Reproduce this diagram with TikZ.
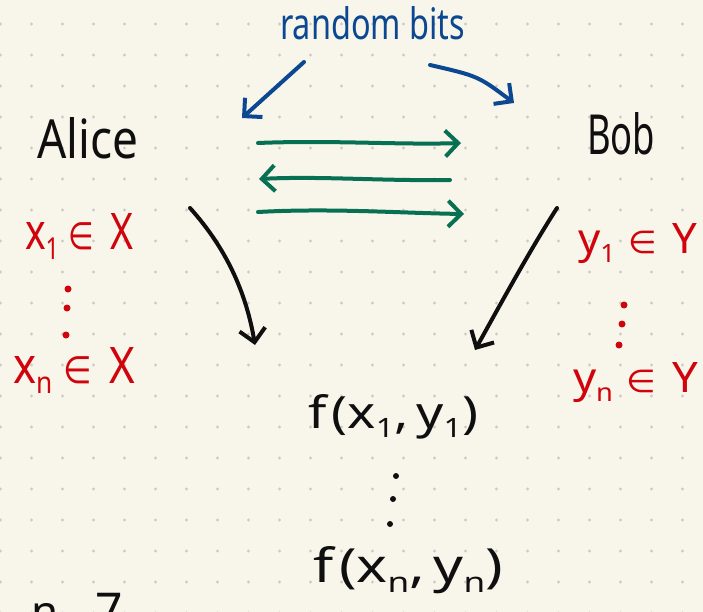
\documentclass[tikz,border=0pt]{standalone}
\usepackage{fontspec}
\setmainfont{Noto Sans}
\newfontfamily\dvfont{DejaVu Sans}
\usepackage{graphicx}
\usetikzlibrary{arrows.meta}
\definecolor{paper}{RGB}{248,246,235}
\definecolor{dotc}{RGB}{204,203,198}
\definecolor{ink}{RGB}{15,15,15}
\definecolor{redink}{RGB}{208,4,12}
\definecolor{blueink}{RGB}{12,72,146}
\definecolor{greenink}{RGB}{8,112,82}
\newcommand\sbs[1]{\raisebox{-0.4ex}{\scalebox{0.6}{#1}}}
\newcommand\elemsym{\scalebox{0.75}{\dvfont ∈}}
\begin{document}
\begin{tikzpicture}[x=1pt,y=-1pt,
  pen/.style={line width=4pt,line cap=round,line join=round,
    -{Straight Barb[length=13pt,width=26pt]}},
  lbl/.style={inner sep=0pt,outer sep=0pt,anchor=base west},
  vdot/.style={circle,fill,inner sep=0pt,minimum size=7pt},
  redtxt/.style={lbl,text=redink,font=\fontsize{40}{44}\selectfont},
  blktxt/.style={lbl,text=ink,font=\fontsize{40}{44}\selectfont}]
% paper
\useasboundingbox (0,0) rectangle (703,612);
\fill[paper] (0,0) rectangle (703,612);
\foreach \i in {0,...,22}
  \foreach \j in {0,...,19}
    \fill[dotc] (31*\i+0.5,24+31*\j) circle[radius=1.7pt];
% labels
\node[lbl,text=blueink,font=\fontsize{32}{36}\selectfont] (rb) at (280,40)
  {\resizebox{185pt}{33pt}{random bits}};
\node[blktxt] (alice) at (37,159) {\resizebox{101pt}{41pt}{Alice}};
\node[blktxt] (bob) at (587,155) {\resizebox{68pt}{42pt}{Bob}};
% red lists
\node[redtxt] (x1) at (25,249)
  {\resizebox{108pt}{36pt}{x\sbs{1}\hspace{0.25em}\elemsym\hspace{0.4em}X}};
\node[redtxt] (xn) at (13,383)
  {\resizebox{122pt}{36pt}{x\sbs{n}\hspace{0.25em}\elemsym\hspace{0.4em}X}};
\node[redtxt] (y1) at (578,253)
  {\resizebox{119pt}{30pt}{y\sbs{1}\hspace{0.3em}\elemsym\hspace{0.35em}Y}};
\node[redtxt] (yn) at (573,392)
  {\resizebox{125pt}{30pt}{y\sbs{n}\hspace{0.3em}\elemsym\hspace{0.35em}Y}};
\node[vdot,redink] (xd1) at (68,289) {};
\node[vdot,redink] (xd2) at (67,308) {};
\node[vdot,redink] (xd3) at (66,335) {};
\node[vdot,redink] (yd1) at (624,305) {};
\node[vdot,redink] (yd2) at (622,324) {};
\node[vdot,redink] (yd3) at (619,345) {};
% results
\node[blktxt] (f1) at (308,428)
  {\resizebox{170pt}{34pt}{f\hspace{0.1em}(x\sbs{1},\hspace{0.15em}y\sbs{1})}};
\node[blktxt] (fn) at (313,582)
  {\resizebox{190pt}{36pt}{f\hspace{0.1em}(x\sbs{n},\hspace{0.15em}y\sbs{n})}};
\node[vdot,ink,minimum size=6pt] (fd1) at (396,476) {};
\node[vdot,ink,minimum size=6pt] (fd2) at (393,499) {};
\node[vdot,ink,minimum size=6pt] (fd3) at (390,524) {};
% text cut off at the bottom edge, as in the reference
\node[blktxt,font=\fontsize{44}{48}\selectfont] (nfrag) at (31,627) {n};
\node[blktxt,font=\fontsize{48}{52}\selectfont] (sfrag) at (95,627) {7};
% connector end points
\coordinate (rbL) at (304,62);
\coordinate (rbLe) at (242,118);
\coordinate (rbR) at (430,65);
\coordinate (rbRe) at (514,103);
\coordinate (g1s) at (258,143);
\coordinate (g1e) at (461,143);
\coordinate (g2s) at (450,180);
\coordinate (g2e) at (259,179);
\coordinate (g3s) at (258,212);
\coordinate (g3e) at (464,214);
\coordinate (aS) at (190,208);
\coordinate (aE) at (255,345);
\coordinate (bS) at (557,208);
\coordinate (bE) at (475,350);
% blue arrows
\draw[pen,blueink] (rbL) -- (rbLe);
\draw[pen,blueink] (rbR) .. controls (478,76) .. (rbRe);
% green messages
\draw[pen,greenink] (g1s) .. controls (330,140) and (400,145) .. (g1e);
\draw[pen,greenink] (g2s) .. controls (380,181) and (320,176) .. (g2e);
\draw[pen,greenink] (g3s) .. controls (330,208) and (400,213) .. (g3e);
% black arrows to outputs
\draw[pen,ink] (aS) .. controls (226,248) and (246,292) .. (aE);
\draw[pen,ink] (bS) .. controls (530,250) and (500,305) .. (bE);
\end{tikzpicture}
\end{document}
